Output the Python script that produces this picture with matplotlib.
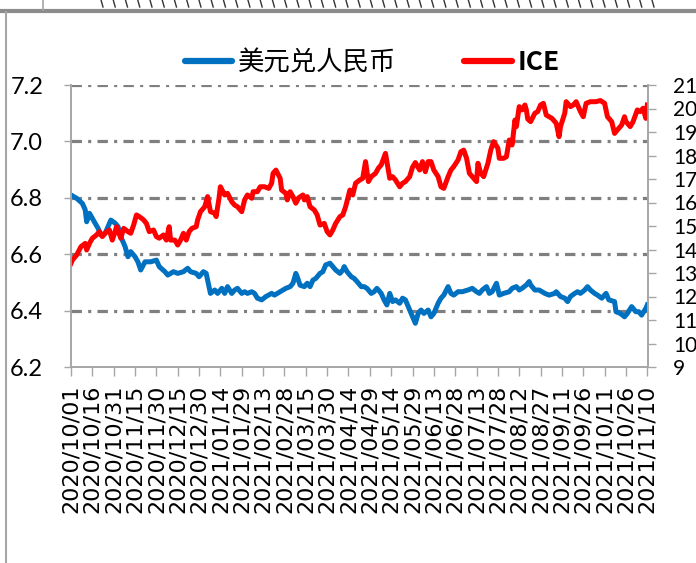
import numpy as np
import pandas as pd
import matplotlib
matplotlib.use("Agg")
import matplotlib.pyplot as plt
import matplotlib.dates as mdates
from matplotlib.lines import Line2D

plt.rcParams['lines.scale_dashes'] = False

# days counted from 2020/10/01
start = pd.Timestamp('2020-10-01')
end = pd.Timestamp('2021-11-10')

usd_days = [0, 4, 8, 10, 11, 13, 15, 19, 21, 24, 26, 28, 31, 33, 35, 38, 40, 42, 45, 47,
            49, 52, 56, 60, 62, 66, 68, 72, 75, 79, 82, 84, 88, 90, 93, 95, 97, 98, 101, 103,
            106, 108, 110, 113, 115, 117, 120, 122, 124, 127, 129, 131, 134, 137, 141, 143, 147, 149, 151, 154,
            156, 158, 159, 161, 164, 166, 168, 170, 172, 175, 177, 179, 182, 184, 186, 189, 191, 192, 194, 197,
            199, 201, 204, 206, 208, 211, 213, 215, 218, 220, 222, 224, 226, 228, 231, 233, 235, 238, 240, 242,
            244, 246, 248, 251, 253, 255, 258, 260, 262, 265, 267, 269, 272, 275, 279, 282, 285, 287, 289, 292,
            294, 296, 299, 301, 304, 308, 310, 313, 315, 317, 320, 322, 323, 326, 329, 333, 336, 340, 341, 344,
            347, 349, 351, 354, 356, 358, 361, 363, 365, 368, 370, 373, 376, 378, 382, 383, 386, 389, 391, 394,
            397, 399, 401, 404, 405]
usd = [6.810, 6.798, 6.780, 6.757, 6.715, 6.745, 6.727, 6.692, 6.668, 6.674, 6.698, 6.721, 6.710, 6.698, 6.662, 6.627, 6.591, 6.609, 6.591, 6.573,
       6.544, 6.573, 6.573, 6.579, 6.556, 6.538, 6.526, 6.538, 6.532, 6.538, 6.550, 6.538, 6.532, 6.520, 6.538, 6.532, 6.485, 6.461, 6.473, 6.461,
       6.479, 6.461, 6.485, 6.461, 6.473, 6.479, 6.461, 6.467, 6.461, 6.467, 6.461, 6.444, 6.438, 6.450, 6.461, 6.455, 6.467, 6.473, 6.479, 6.485,
       6.497, 6.532, 6.520, 6.490, 6.485, 6.497, 6.485, 6.508, 6.514, 6.532, 6.538, 6.562, 6.568, 6.556, 6.544, 6.532, 6.544, 6.556, 6.538, 6.520,
       6.514, 6.503, 6.485, 6.485, 6.479, 6.461, 6.467, 6.479, 6.461, 6.438, 6.420, 6.461, 6.432, 6.438, 6.426, 6.444, 6.438, 6.402, 6.378, 6.355,
       6.390, 6.402, 6.390, 6.402, 6.378, 6.390, 6.426, 6.444, 6.455, 6.485, 6.461, 6.455, 6.467, 6.467, 6.473, 6.479, 6.467, 6.461, 6.473, 6.485,
       6.461, 6.467, 6.497, 6.455, 6.461, 6.467, 6.479, 6.485, 6.473, 6.479, 6.491, 6.503, 6.491, 6.473, 6.473, 6.461, 6.455, 6.461, 6.467, 6.450,
       6.444, 6.432, 6.450, 6.461, 6.467, 6.461, 6.473, 6.485, 6.473, 6.461, 6.455, 6.444, 6.461, 6.438, 6.432, 6.396, 6.390, 6.378, 6.390, 6.414,
       6.396, 6.396, 6.384, 6.408, 6.420]

ice_days = [0, 1, 4, 7, 10, 11, 13, 15, 18, 20, 22, 25, 27, 29, 31, 32, 35, 37, 40, 42,
            44, 46, 48, 51, 53, 55, 58, 60, 62, 65, 67, 69, 70, 73, 75, 77, 79, 81, 83, 85,
            88, 89, 91, 94, 96, 98, 101, 102, 104, 105, 108, 110, 113, 115, 117, 120, 122, 124, 127, 128,
            131, 133, 136, 139, 141, 142, 144, 147, 148, 151, 152, 154, 156, 158, 160, 163, 164, 166, 168, 171,
            173, 175, 178, 180, 182, 184, 186, 189, 191, 193, 196, 198, 200, 203, 205, 207, 209, 211, 214, 216,
            218, 221, 222, 224, 226, 228, 231, 233, 235, 238, 240, 242, 245, 247, 249, 251, 253, 255, 258, 260,
            262, 265, 267, 269, 272, 274, 276, 278, 280, 282, 285, 286, 288, 290, 293, 295, 297, 300, 301, 304,
            306, 308, 310, 312, 313, 315, 317, 319, 320, 321, 323, 326, 328, 330, 332, 334, 336, 338, 341, 343,
            344, 347, 348, 351, 353, 355, 358, 360, 362, 365, 369, 372, 375, 377, 380, 382, 384, 387, 389, 390,
            393, 395, 398, 400, 402, 404, 405]
ice = [13.41, 13.55, 13.77, 14.12, 14.26, 13.98, 14.26, 14.48, 14.62, 14.76, 14.55, 14.76, 14.83, 14.40, 14.76, 14.97, 14.48, 14.90, 14.76, 14.69,
       15.04, 15.47, 15.40, 15.26, 15.11, 14.76, 14.83, 14.55, 14.48, 14.62, 14.40, 14.97, 14.40, 14.40, 14.19, 14.40, 14.69, 14.40, 14.76, 14.90,
       14.97, 15.26, 15.61, 15.82, 16.25, 15.61, 15.54, 15.40, 16.18, 16.67, 16.32, 16.39, 16.03, 15.89, 15.82, 15.61, 16.11, 16.32, 16.18, 16.46,
       16.46, 16.67, 16.67, 16.60, 16.82, 17.24, 17.38, 17.03, 16.53, 16.39, 16.11, 16.46, 16.25, 15.97, 16.20, 16.32, 16.11, 16.25, 15.82, 15.68,
       15.47, 15.04, 15.11, 14.76, 14.62, 14.83, 15.11, 15.40, 15.47, 15.82, 16.53, 16.32, 16.82, 16.96, 17.03, 17.74, 16.89, 17.10, 17.24, 17.46,
       17.60, 18.09, 17.74, 17.03, 17.10, 16.96, 16.67, 16.82, 16.89, 17.10, 17.50, 17.70, 17.38, 17.74, 17.31, 17.74, 17.74, 17.38, 17.10, 16.67,
       16.60, 17.10, 17.38, 17.53, 17.81, 18.16, 18.23, 17.88, 17.24, 17.10, 16.89, 17.67, 17.24, 17.10, 17.67, 18.23, 18.59, 18.31, 17.88, 17.88,
       17.95, 18.66, 18.45, 19.51, 19.23, 20.08, 19.94, 20.15, 19.94, 19.55, 19.44, 19.80, 19.87, 20.15, 20.22, 19.72, 19.65, 19.58, 19.37, 18.80,
       19.23, 19.80, 20.29, 20.08, 20.15, 20.29, 19.87, 19.65, 20.22, 20.29, 20.29, 20.34, 20.22, 19.65, 19.44, 18.94, 19.09, 19.30, 19.65, 19.44,
       19.23, 19.44, 19.94, 19.87, 20.01, 19.58, 20.15]

usd_ticks = [6.2, 6.4, 6.6, 6.8, 7.0, 7.2]
ice_ticks = list(range(9, 22))
legend_labels = ['美元兑人民币', 'ICE']

usd_x = start + pd.to_timedelta(usd_days, unit='D')
ice_x = start + pd.to_timedelta(ice_days, unit='D')
date_ticks = pd.date_range(start, end, freq='15D')

W, H = 696, 563
fig = plt.figure(figsize=(W / 100, H / 100), dpi=100)
ax = fig.add_axes([71 / W, 1 - 367 / H, (648 - 71) / W, (367 - 85) / H])
ax2 = ax.twinx()

ax.plot(usd_x, usd, color='#0070C0', lw=3.6, solid_joinstyle='round', label=legend_labels[0])
ax2.plot(ice_x, ice, color='#FF0000', lw=3.6, solid_joinstyle='round', label=legend_labels[1])

ax.set_xlim(start, end + pd.Timedelta(days=0.5))
ax.set_ylim(6.2, 7.2)
ax2.set_ylim(9, 21)

ax.set_yticks(usd_ticks)
ax.set_yticklabels(['%.1f' % v for v in usd_ticks], fontsize=17, family='Lato')
ax2.set_yticks(ice_ticks)
ax2.set_yticklabels([str(v) for v in ice_ticks], fontsize=15, family='Lato')

ax.set_xticks(mdates.date2num(date_ticks))
ax.set_xticklabels([d.strftime('%Y/%m/%d') for d in date_ticks], rotation=90,
                   fontsize=16, family='DejaVu Sans', va='top', ha='center')

# dash-dot horizontal grid
for v in usd_ticks[1:]:
    ax.axhline(v, color='#7f7f7f', lw=2.3, linestyle=(0, (7.5, 4.5, 2.2, 4.5)), zorder=0)

for a in (ax, ax2):
    for s in a.spines.values():
        s.set_color('#a6a6a6')
        s.set_linewidth(1.2)
    a.spines['top'].set_visible(False)
ax.tick_params(axis='y', length=5, width=1, color='#a6a6a6', pad=15)
ax.tick_params(axis='x', length=6.5, width=1, color='#a6a6a6', pad=6)
ax2.tick_params(axis='y', length=6, width=1, color='#a6a6a6', pad=12)

# legend
leg = fig.legend(handles=[ax.lines[0], ax2.lines[0]], loc='center', ncol=2,
                 bbox_to_anchor=(372 / W, 1 - 63 / H), frameon=False,
                 prop={'family': ['Noto Sans CJK SC', 'DejaVu Sans'], 'size': 19},
                 handlelength=1.8, handletextpad=0.2, columnspacing=2.6)
for h in leg.legend_handles:
    h.set_linewidth(4.5)
    h.set_solid_capstyle('round')
leg.get_texts()[1].set_fontweight('bold')

# frame pieces from the surrounding page
fig.add_artist(Line2D([0, 1], [1 - 11 / H] * 2, transform=fig.transFigure, color='#8c8c8c', lw=3))
fig.add_artist(Line2D([6 / W, 6 / W], [0, 1 - 12 / H], transform=fig.transFigure, color='#a6a6a6', lw=1.5))
fig.add_artist(Line2D([43 / W, 43 / W], [1 - 10 / H, 1], transform=fig.transFigure, color='#a6a6a6', lw=1.2))
for px in np.linspace(101, 652, 46):
    fig.add_artist(Line2D([px / W, (px + 2) / W], [1, 1 - 7 / H], transform=fig.transFigure,
                          color='#333333', lw=1.0))

fig.savefig('out.png', dpi=100)
